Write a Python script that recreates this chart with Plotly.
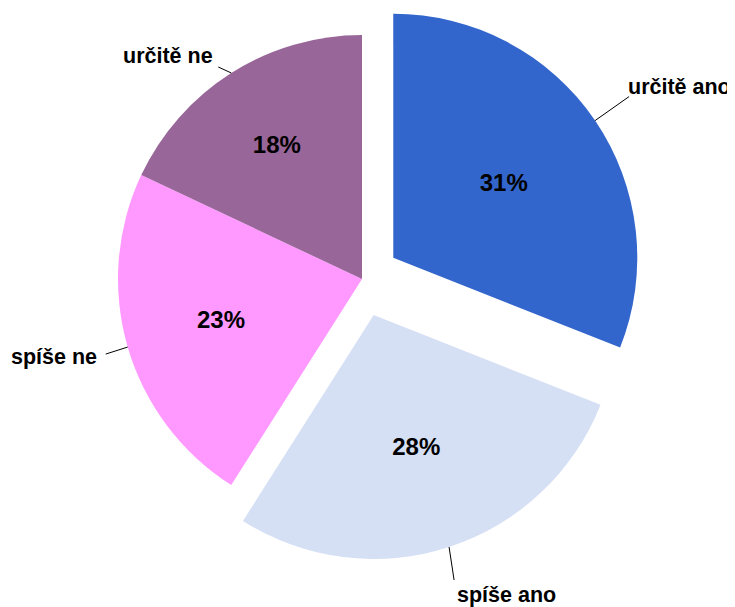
import math
import plotly.graph_objects as go

# survey answers, clockwise from 12 o'clock
labels = ["určitě ano", "spíše ano", "spíše ne", "určitě ne"]
values = [31, 28, 23, 18]
colors = ["#3366CC", "#D6E0F5", "#FF99FF", "#996699"]
pulls = [0.155, 0.155, 0, 0]

# page body has an 8px margin, so the figure is a bit smaller than the window
W, H = 727, 599
CX, CY, R = 354, 271, 244  # pie centre and radius in figure pixels

# leader line (px from slice edge) and label offset from the end of the leader
leader = [(34, -24), (5, 33), (-22, 7), (-13, -6)]
label_off = [(-3, -10), (1, 15), (-7, 3), (-3, -11)]
label_anchor = ["left", "left", "right", "right"]

FONT = "Liberation Sans, Arial"
total = sum(values)

fig = go.Figure()
shapes = []
annotations = []
start = 0
for i, (lab, v, p) in enumerate(zip(labels, values, pulls)):
    a = math.radians(360 * (start + v / 2) / total)
    start += v
    dx, dy = math.sin(a), -math.cos(a)
    # pulled centre of this slice
    sx = CX + p * R * dx
    sy = CY + p * R * dy

    # one pie per slice so that pulled slices keep the full radius
    fig.add_trace(go.Pie(
        labels=labels,
        values=values,
        marker=dict(colors=[c if j == i else "rgba(0,0,0,0)" for j, c in enumerate(colors)],
                    line=dict(width=0)),
        sort=False,
        direction="clockwise",
        rotation=0,
        texttemplate=["%{percent:.0%}" if j == i else "" for j in range(len(values))],
        textposition="inside",
        insidetextorientation="horizontal",
        insidetextfont=dict(family=FONT, size=24, color="black", weight="bold"),
        domain=dict(x=[(sx - R) / W, (sx + R) / W], y=[1 - (sy + R) / H, 1 - (sy - R) / H]),
        showlegend=False,
        hoverinfo="label+percent",
    ))

    hx, hy = sx + R * dx, sy + R * dy
    tx, ty = hx + leader[i][0], hy + leader[i][1]
    shapes.append(dict(type="line", xref="paper", yref="paper",
                       x0=hx / W, y0=1 - hy / H, x1=tx / W, y1=1 - ty / H,
                       line=dict(color="black", width=1)))
    annotations.append(dict(
        x=(tx + label_off[i][0]) / W, y=1 - (ty + label_off[i][1]) / H,
        xref="paper", yref="paper", text=lab, showarrow=False,
        xanchor=label_anchor[i], yanchor="middle",
        font=dict(family=FONT, size=21.5, color="black", weight="bold"),
    ))

fig.update_layout(
    width=W, height=H,
    margin=dict(l=0, r=0, t=0, b=0),
    paper_bgcolor="white",
    plot_bgcolor="white",
    shapes=shapes,
    annotations=annotations,
)

fig.write_html("out.html")
